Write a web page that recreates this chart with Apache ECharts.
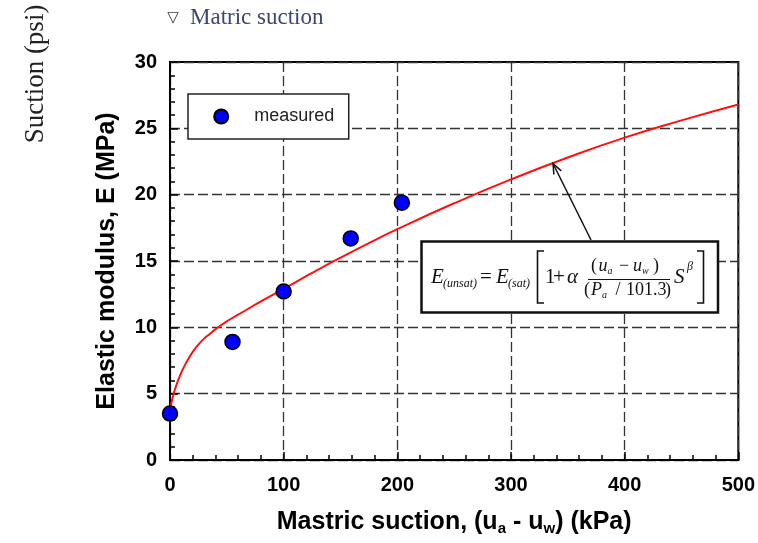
<!DOCTYPE html>
<html>
<head>
<meta charset="utf-8">
<script src="https://cdn.jsdelivr.net/npm/echarts@6/dist/echarts.min.js"></script>
<style>
  html, body { margin: 0; padding: 0; background: #fff; }
  #chart { width: 758px; height: 543px; }
</style>
</head>
<body>
<div id="chart"></div>
<script>
// Measured elastic modulus vs. matric suction
const measuredSuction = [0, 55, 100, 159, 204];
const measuredModulus = [3.5, 8.9, 12.7, 16.7, 19.4];

// Fitted model curve, E(unsat)
const fitSuction = [0, 2, 5, 10, 15, 20, 25, 30, 35, 40, 50, 60, 80, 100, 125, 150, 175, 200, 250, 300, 350, 400, 450, 500];
const fitModulus = [3.7, 4.6, 5.5, 6.6, 7.45, 8.15, 8.7, 9.15, 9.5, 9.85, 10.45, 10.95, 11.95, 12.9, 14.1, 15.25, 16.35, 17.4, 19.35, 21.15, 22.8, 24.3, 25.6, 26.8];

// Axis ticks
const suctionTicks = [0, 100, 200, 300, 400, 500];
const modulusTicks = [0, 5, 10, 15, 20, 25, 30];

const sans = 'Arial, "Liberation Sans", Helvetica, sans-serif';
const serif = '"Liberation Serif", "Times New Roman", Times, serif';

const chart = echarts.init(document.getElementById('chart'), null, { renderer: 'canvas' });

// Text piece of the model equation
function eq(x, y, text, size, italic, align) {
  return {
    type: 'text', x: x, y: y, z: 110,
    style: {
      text: text, fontFamily: serif, fontSize: size,
      fontStyle: italic ? 'italic' : 'normal',
      fill: '#111', align: align || 'left', verticalAlign: 'middle'
    }
  };
}
function seg(points, w) {
  return { type: 'polyline', z: 110, shape: { points: points }, style: { stroke: '#111', lineWidth: w, fill: null } };
}

// Arrow from the equation box to the curve
const arrowTail = [591, 240];
const arrowTip = [553, 163.5];
function arrowHead(tail, tip, len, ang) {
  const dx = tail[0] - tip[0], dy = tail[1] - tip[1];
  const d = Math.hypot(dx, dy), ux = dx / d, uy = dy / d;
  const c = Math.cos(ang), s = Math.sin(ang);
  return [
    [tip[0] + len * (ux * c - uy * s), tip[1] + len * (ux * s + uy * c)],
    tip,
    [tip[0] + len * (ux * c + uy * s), tip[1] + len * (-ux * s + uy * c)]
  ];
}

const option = {
  backgroundColor: '#fff',
  animation: false,
  grid: {
    left: 170, right: 19, top: 62, bottom: 83,
    show: true, borderColor: '#000', borderWidth: 2, backgroundColor: 'transparent'
  },
  legend: {
    left: 188, top: 94,
    data: [{ name: 'measured', icon: 'circle' }],
    itemWidth: 56, itemHeight: 14,
    padding: [13.5, 14.5, 13.5, 25.2],
    backgroundColor: '#fff', borderColor: '#222', borderWidth: 1.5, borderRadius: 0,
    textStyle: { fontFamily: sans, fontSize: 18, color: '#222', lineHeight: 18 }
  },
  xAxis: {
    type: 'value',
    min: suctionTicks[0], max: suctionTicks[suctionTicks.length - 1],
    interval: suctionTicks[1] - suctionTicks[0],
    name: 'Mastric suction, (u{s|a} - u{s|w}) (kPa)',
    nameLocation: 'middle', nameGap: 49,
    nameTextStyle: {
      fontFamily: sans, fontSize: 25, fontWeight: 'bold', color: '#000', lineHeight: 27,
      rich: { s: { fontFamily: sans, fontSize: 15, fontWeight: 'bold', color: '#000', lineHeight: 15, verticalAlign: 'bottom' } }
    },
    axisLine: { show: true, onZero: false, lineStyle: { color: '#000', width: 2 } },
    axisTick: { show: true, inside: true, length: 8, lineStyle: { color: '#000', width: 1.5 } },
    minorTick: { show: true, splitNumber: 5, length: 5, lineStyle: { color: '#000', width: 1.5 } },
    axisLabel: { margin: 15, fontFamily: sans, fontSize: 20, fontWeight: 'bold', color: '#000' },
    splitLine: { show: true, lineStyle: { color: '#333', width: 1.3, type: [10, 4] } }
  },
  yAxis: {
    type: 'value',
    min: modulusTicks[0], max: modulusTicks[modulusTicks.length - 1],
    interval: modulusTicks[1] - modulusTicks[0],
    name: 'Elastic modulus, E (MPa)',
    nameLocation: 'middle', nameGap: 50, nameRotate: 90,
    nameTextStyle: { fontFamily: sans, fontSize: 25, fontWeight: 'bold', color: '#000' },
    axisLine: { show: true, onZero: false, lineStyle: { color: '#000', width: 2 } },
    axisTick: { show: true, inside: true, length: 8, lineStyle: { color: '#000', width: 1.5 } },
    minorTick: { show: true, splitNumber: 5, length: 5, lineStyle: { color: '#000', width: 1.5 } },
    axisLabel: { margin: 13, fontFamily: sans, fontSize: 20, fontWeight: 'bold', color: '#000' },
    splitLine: { show: true, lineStyle: { color: '#333', width: 1.3, type: [10, 4] } }
  },
  series: [
    {
      name: 'model',
      type: 'line',
      data: fitSuction.map((s, i) => [s, fitModulus[i]]),
      showSymbol: false,
      smooth: 0.5,
      lineStyle: { color: '#ff1010', width: 2 },
      z: 3
    },
    {
      name: 'measured',
      type: 'scatter',
      data: measuredSuction.map((s, i) => [s, measuredModulus[i]]),
      symbol: 'circle',
      symbolSize: 15,
      itemStyle: { color: '#0000ff', borderColor: '#000', borderWidth: 1.5, opacity: 1 },
      z: 5
    }
  ],
  graphic: [
    // header texts
    { type: 'text', x: 173, y: 18, z: 100,
      style: { text: '\u25BD', fontFamily: '"DejaVu Sans", sans-serif', fontSize: 15, fill: '#333', align: 'center', verticalAlign: 'middle' } },
    { type: 'text', x: 190, y: 18, z: 100,
      style: { text: 'Matric suction', fontFamily: serif, fontSize: 23, fill: '#3b4770', align: 'left', verticalAlign: 'middle' } },
    { type: 'text', x: 36, y: 74, rotation: Math.PI / 2, z: 100,
      style: { text: 'Suction (psi)', fontFamily: serif, fontSize: 27, fill: '#222', align: 'center', verticalAlign: 'middle' } },

    // equation box
    { type: 'rect', z: 105, shape: { x: 421.5, y: 241.5, width: 296.5, height: 71 },
      style: { fill: '#fff', stroke: '#111', lineWidth: 2.5 } },
    eq(431, 277, 'E', 21, true),
    eq(443, 284, '(unsat)', 12, true),
    eq(486, 277, '=', 21, false, 'center'),
    eq(496, 277, 'E', 21, true),
    eq(508, 284, '(sat)', 12, true),
    seg([[544, 251], [537.5, 251], [537.5, 303], [544, 303]], 1.6),
    eq(545, 277, '1', 21, false),
    eq(559, 277, '+', 21, false, 'center'),
    eq(567, 277, '\u03B1', 21, true),
    // numerator
    eq(591, 266, '(', 18, false),
    eq(598.5, 266, 'u', 18, true),
    eq(607.5, 271, 'a', 10, true),
    eq(624, 266, '\u2212', 18, false, 'center'),
    eq(633, 266, 'u', 18, true),
    eq(642, 271, 'w', 10, true),
    eq(653, 266, ')', 18, false),
    seg([[588, 279.5], [670, 279.5]], 1.1),
    // denominator
    eq(584, 290, '(', 18, false),
    eq(591, 290, 'P', 18, true),
    eq(602, 295, 'a', 10, true),
    eq(618, 290, '/', 18, false, 'center'),
    eq(626, 290, '101.3', 18, false),
    eq(665, 290, ')', 18, false),
    eq(674, 277, 'S', 21, true),
    eq(687, 267, '\u03B2', 12, true),
    seg([[697, 251], [703.5, 251], [703.5, 303], [697, 303]], 1.6),

    // arrow
    { type: 'line', z: 108, shape: { x1: arrowTail[0], y1: arrowTail[1], x2: arrowTip[0], y2: arrowTip[1] },
      style: { stroke: '#111', lineWidth: 1.5 } },
    { type: 'polyline', z: 108, shape: { points: arrowHead(arrowTail, arrowTip, 11, 0.38) },
      style: { stroke: '#111', lineWidth: 1.5, fill: null } }
  ]
};

chart.setOption(option);
</script>
</body>
</html>
